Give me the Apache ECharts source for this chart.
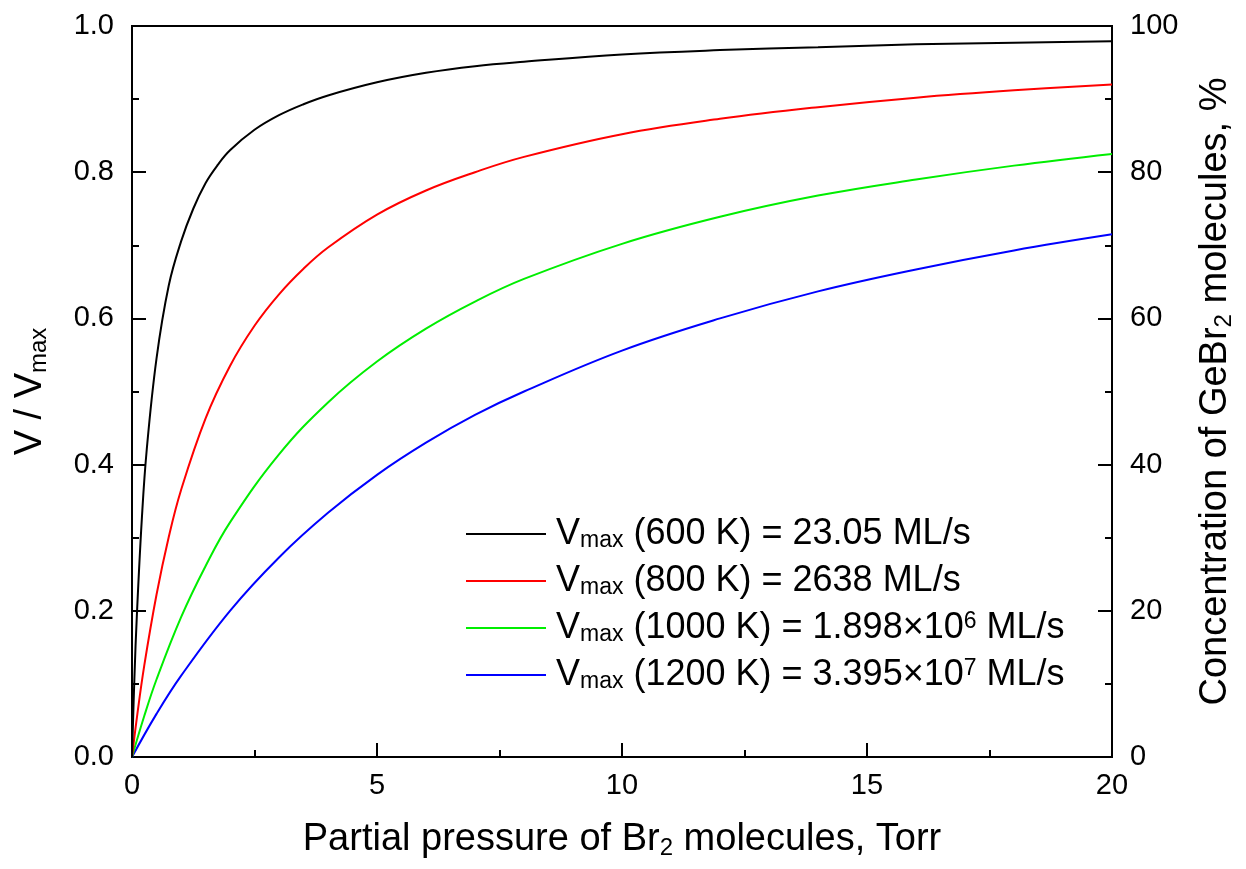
<!DOCTYPE html>
<html>
<head>
<meta charset="utf-8">
<script src="https://cdn.jsdelivr.net/npm/echarts@6/dist/echarts.min.js"></script>
<style>html,body{margin:0;padding:0;background:#fff}#c{width:1246px;height:869px}</style>
</head>
<body>
<div id="c"></div>
<script>
// Pressure values (Torr) at which curves were read
const pBlack = [0, 0.05, 0.1, 0.2, 0.3, 0.5, 0.75, 1, 1.25, 1.5, 1.75, 2, 2.5, 3, 3.5, 4, 5, 6, 7, 8, 10, 12, 14, 16, 18, 20];
const vBlack = [0, 0.11, 0.195, 0.325, 0.42, 0.545, 0.645, 0.705, 0.75, 0.785, 0.81, 0.83, 0.858, 0.878, 0.893, 0.905, 0.923, 0.936, 0.945, 0.951, 0.961, 0.967, 0.971, 0.975, 0.977, 0.979];
const pRed = [0, 0.1, 0.25, 0.5, 0.75, 1, 1.5, 2, 2.5, 3, 3.5, 4, 5, 6, 7, 8, 10, 12, 14, 16, 18, 20];
const vRed = [0, 0.054, 0.125, 0.222, 0.301, 0.365, 0.463, 0.535, 0.59, 0.633, 0.668, 0.697, 0.742, 0.775, 0.80, 0.821, 0.852, 0.873, 0.889, 0.902, 0.912, 0.920];
const pGreen = [0, 0.25, 0.5, 1, 1.5, 2, 3, 4, 5, 6, 7, 8, 10, 12, 14, 16, 18, 20];
const vGreen = [0, 0.056, 0.106, 0.191, 0.261, 0.321, 0.414, 0.485, 0.541, 0.586, 0.623, 0.654, 0.702, 0.739, 0.768, 0.790, 0.809, 0.825];
const pBlue = [0, 0.5, 1, 2, 3, 4, 5, 6, 7, 8, 10, 12, 14, 16, 18, 20];
const vBlue = [0, 0.059, 0.111, 0.20, 0.273, 0.334, 0.386, 0.43, 0.468, 0.50, 0.556, 0.60, 0.637, 0.667, 0.693, 0.715];

const seriesNames = ['600', '800', '1000', '1200'];
const legendLabels = {
  '600': 'V{sub|max} (600 K) = 23.05 ML/s',
  '800': 'V{sub|max} (800 K) = 2638 ML/s',
  '1000': 'V{sub|max} (1000 K) = 1.898×10{sup|6} ML/s',
  '1200': 'V{sub|max} (1200 K) = 3.395×10{sup|7} ML/s'
};
const colors = ['#000000', '#ff0000', '#00ee00', '#0000ff'];

function pairs(p, v) { return p.map((x, i) => [x, v[i]]); }
const datasets = [pairs(pBlack, vBlack), pairs(pRed, vRed), pairs(pGreen, vGreen), pairs(pBlue, vBlue)];

const FONT = '"Liberation Sans", Arial, sans-serif';
const legendRich = {
  sub: { fontSize: 23, fontFamily: FONT, color: '#000', lineHeight: 12, verticalAlign: 'bottom' },
  sup: { fontSize: 23, fontFamily: FONT, color: '#000', lineHeight: 12, verticalAlign: 'top' }
};
const titleRich = { sub: { fontSize: 24, fontFamily: FONT, color: '#000', lineHeight: 14, verticalAlign: 'bottom' } };

const chart = echarts.init(document.getElementById('c'));
chart.setOption({
  animation: false,
  backgroundColor: '#fff',
  grid: { left: 132, right: 134, top: 26, bottom: 112, show: true, borderColor: '#000', borderWidth: 2, backgroundColor: 'transparent', outerBoundsMode: 'none', containLabel: false },
  legend: {
    orient: 'vertical',
    left: 466,
    top: 516,
    padding: 0,
    itemWidth: 80,
    itemHeight: 14,
    itemGap: 11,
    data: seriesNames,
    icon: 'path://M0,6 L80,6 L80,8 L0,8 Z',
    formatter: n => legendLabels[n],
    textStyle: {
      fontSize: 36, fontFamily: FONT, color: '#000', lineHeight: 36, padding: [0, 0, 0, 5],
      rich: legendRich
    }
  },
  xAxis: {
    type: 'value', min: 0, max: 20, interval: 5,
    name: 'Partial pressure of Br{sub|2} molecules, Torr',
    nameLocation: 'middle', nameGap: 63,
    nameTextStyle: { fontSize: 38, fontFamily: FONT, color: '#000', lineHeight: 40, rich: titleRich },
    axisLine: { lineStyle: { color: '#000', width: 2 } },
    axisTick: { inside: true, length: 14, lineStyle: { color: '#000', width: 2 } },
    minorTick: { show: true, splitNumber: 2, length: 7, lineStyle: { color: '#000', width: 2 } },
    axisLabel: { fontSize: 29, fontFamily: FONT, color: '#000', margin: 14 },
    splitLine: { show: false }
  },
  yAxis: [
    {
      type: 'value', min: 0, max: 1, interval: 0.2, position: 'left',
      name: 'V / V{sub|max}',
      nameLocation: 'middle', nameGap: 81, nameRotate: 90,
      nameTextStyle: { fontSize: 38, fontFamily: FONT, color: '#000', lineHeight: 40, rich: titleRich },
      axisLine: { show: true, lineStyle: { color: '#000', width: 2 } },
      axisTick: { inside: true, length: 14, lineStyle: { color: '#000', width: 2 } },
      minorTick: { show: true, splitNumber: 2, length: 7, lineStyle: { color: '#000', width: 2 } },
      axisLabel: { fontSize: 29, fontFamily: FONT, color: '#000', margin: 18, formatter: v => v.toFixed(1) },
      splitLine: { show: false }
    },
    {
      type: 'value', min: 0, max: 100, interval: 20, position: 'right',
      name: 'Concentration of GeBr{sub|2} molecules, %',
      nameLocation: 'middle', nameGap: 84, nameRotate: 90,
      nameTextStyle: { fontSize: 38, fontFamily: FONT, color: '#000', lineHeight: 40, rich: titleRich },
      axisLine: { show: true, lineStyle: { color: '#000', width: 2 } },
      axisTick: { inside: true, length: 14, lineStyle: { color: '#000', width: 2 } },
      minorTick: { show: true, splitNumber: 2, length: 7, lineStyle: { color: '#000', width: 2 } },
      axisLabel: { fontSize: 29, fontFamily: FONT, color: '#000', margin: 18 },
      splitLine: { show: false }
    }
  ],
  series: seriesNames.map((n, i) => ({
    name: n, type: 'line', yAxisIndex: 0, data: datasets[i],
    smooth: 0.4, symbol: 'none', showSymbol: false,
    lineStyle: { color: colors[i], width: 2 }, itemStyle: { color: colors[i] },
    z: 10 - i
  }))
});
</script>
</body>
</html>
